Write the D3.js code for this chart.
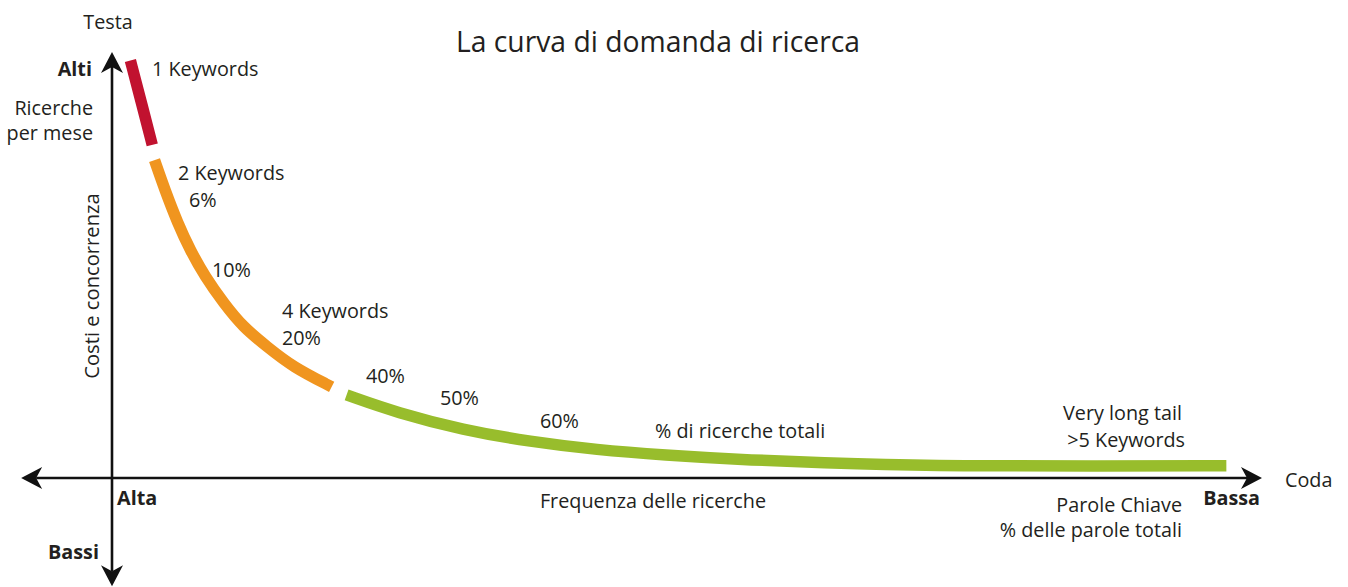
<!DOCTYPE html>
<html>
<head>
<meta charset="utf-8">
<script src="https://cdn.jsdelivr.net/npm/d3@7"></script>
<style>
body { margin: 0; background: #fff; }
text { font-family: "Open Sans", sans-serif; fill: #231f20; }
</style>
</head>
<body>
<div id="chart"></div>
<script>
// demand curve, x = frequency position (0..100), y = searches / cost (0..100)
var headX = [1.6, 2.5, 3.5];
var headY = [98, 88.7, 78.2];
var midX = [3.7, 4.6, 5.7, 6.8, 8.1, 9.7, 11.4, 13.5, 15.7, 19.1];
var midY = [74.6, 67.6, 59.9, 53.5, 47.2, 41.1, 35.4, 30.8, 26.1, 21.4];
var tailX = [20.4, 24.8, 30.5, 36.4, 42.2, 47.9, 55.2, 65.0, 73.7, 85.0, 96.9];
var tailY = [19.5, 15.3, 11.3, 8.5, 6.6, 5.4, 4.2, 3.3, 2.8, 2.8, 2.9];

var segColors = ["#c1122f", "#f0951f", "#98bd2c"];

var title = "La curva di domanda di ricerca";
var curveLabels = ["1 Keywords", "2 Keywords", "6%", "10%", "4 Keywords", "20%",
                   "40%", "50%", "60%", "% di ricerche totali", "Very long tail", ">5 Keywords"];
var axisLabels = ["Testa", "Ricerche", "per mese", "Coda", "Frequenza delle ricerche",
                  "Parole Chiave", "% delle parole totali"];
var boldLabels = ["Alti", "Bassi", "Alta", "Bassa"];
var yAxisTitle = "Costi e concorrenza";

var w = 1348, h = 587;
var fontSize = "19.8px";

// layout
var curvePos = [[152,76,"start"],[178,180,"start"],[189,207,"start"],[212,277,"start"],
                [282,318,"start"],[282,345,"start"],[366,383,"start"],[440,405,"start"],
                [540,428,"start"],[655,438,"start"],[1182,420,"end"],[1185,447,"end"]];
var axisPos = [[108,29,"middle"],[93,115,"end"],[93,140,"end"],[1285,487,"start"],
               [653,508,"middle"],[1182,512,"end"],[1182,537,"end"]];
var boldPos = [[92,76,"end"],[99,559,"end"],[117,505,"start"],[1260,505,"end"]];

var x = d3.scaleLinear().domain([0, 100]).range([112, 1262]);
var y = d3.scaleLinear().domain([0, 100]).range([478, 52]);

var svg = d3.select("#chart").append("svg")
    .attr("width", w).attr("height", h);

// axes
var axisColor = "#111";
var xLeft = -7.9, yBottom = -25.4;

function arrowHead(tx, ty, angle) {
    svg.append("path")
        .attr("d", "M0,0L-21,-11L-15,0L-21,11Z")
        .attr("fill", axisColor)
        .attr("transform", "translate(" + tx + "," + ty + ") rotate(" + angle + ")");
}

svg.append("line")
    .attr("x1", x(xLeft) + 15).attr("x2", x(100) - 15)
    .attr("y1", y(0)).attr("y2", y(0))
    .attr("stroke", axisColor).attr("stroke-width", 2.6);
svg.append("line")
    .attr("x1", x(0)).attr("x2", x(0))
    .attr("y1", y(100) + 15).attr("y2", y(yBottom) - 15)
    .attr("stroke", axisColor).attr("stroke-width", 2.6);
arrowHead(x(100), y(0), 0);
arrowHead(x(xLeft), y(0), 180);
arrowHead(x(0), y(100), -90);
arrowHead(x(0), y(yBottom), 90);

// curve
var line = d3.line()
    .x(function(d) { return x(d[0]); })
    .y(function(d) { return y(d[1]); })
    .curve(d3.curveBasis);

[[headX, headY], [midX, midY], [tailX, tailY]].forEach(function(s, i) {
    var pts = s[0].map(function(v, j) { return [v, s[1][j]]; });
    svg.append("path")
        .attr("d", line(pts))
        .attr("fill", "none")
        .attr("stroke", segColors[i])
        .attr("stroke-width", 11.5)
        .attr("stroke-linecap", "butt");
});

// texts
svg.append("text")
    .attr("x", 658).attr("y", 52)
    .attr("text-anchor", "middle")
    .style("font-size", "28.3px")
    .text(title);

function addLabels(list, pos, bold) {
    list.forEach(function(t, i) {
        svg.append("text")
            .attr("x", pos[i][0]).attr("y", pos[i][1])
            .attr("text-anchor", pos[i][2])
            .style("font-size", fontSize)
            .style("font-weight", bold ? "bold" : "normal")
            .text(t);
    });
}
addLabels(curveLabels, curvePos, false);
addLabels(axisLabels, axisPos, false);
addLabels(boldLabels, boldPos, true);

svg.append("text")
    .attr("transform", "translate(99,286) rotate(-90)")
    .attr("text-anchor", "middle")
    .style("font-size", "20.2px")
    .text(yAxisTitle);
</script>
</body>
</html>
